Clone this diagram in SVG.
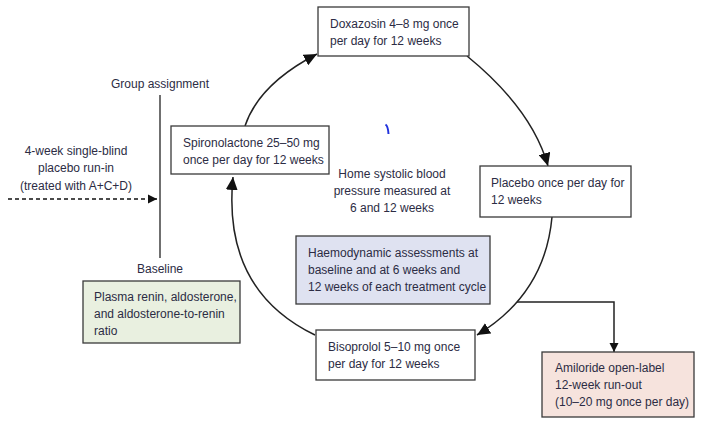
<svg xmlns="http://www.w3.org/2000/svg" width="701" height="425" viewBox="0 0 701 425">
<style>
text{font-family:"Liberation Sans",Arial,sans-serif;font-size:12px;fill:#2c2c44}
.c{text-anchor:middle}
.box{stroke:#3a3a3a;stroke-width:1.3;fill:#fff}
.arc{fill:none;stroke:#222;stroke-width:1.5}
</style>
<defs>
<marker id="ah" markerUnits="userSpaceOnUse" markerWidth="14" markerHeight="12" refX="13" refY="6" orient="auto">
<path d="M0,0 L13,6 L0,12 z" fill="#111"/>
</marker>
<marker id="as" markerUnits="userSpaceOnUse" markerWidth="10" markerHeight="10" refX="9" refY="5" orient="auto">
<path d="M0,0.5 L9,5 L0,9.5 z" fill="#111"/>
</marker>
</defs>
<rect width="701" height="425" fill="#fff"/>

<g id="connectors">
<path class="arc" d="M245,126 Q259,84 317,54" marker-end="url(#ah)"/>
<path class="arc" d="M467,56 Q532,109 548,166" marker-end="url(#ah)"/>
<path class="arc" d="M552,217 Q545,294 477,335" marker-end="url(#ah)"/>
<path class="arc" d="M315,335 Q222,290 233,177" marker-end="url(#ah)"/>
<path class="arc" d="M517,302 H614 V352" marker-end="url(#as)"/>
<path fill="none" stroke="#111" stroke-width="1.3" stroke-dasharray="4,3" d="M8,199 H157" marker-end="url(#as)"/>
<line x1="160" y1="95" x2="160" y2="258" stroke="#222" stroke-width="1.3"/>
</g>

<g id="group-assignment"><text class="c" x="160" y="88">Group assignment</text></g>
<g id="run-in">
<text class="c" x="76" y="155">4-week single-blind</text>
<text class="c" x="76" y="172">placebo run-in</text>
<text class="c" x="76" y="190">(treated with A+C+D)</text>
</g>
<g id="baseline-label"><text class="c" x="160" y="273">Baseline</text></g>

<g id="doxazosin">
<rect class="box" x="318" y="7" width="151" height="49"/>
<text x="330" y="28">Doxazosin 4–8 mg once</text>
<text x="330" y="45">per day for 12 weeks</text>
</g>
<g id="spironolactone">
<rect class="box" x="171" y="126" width="158" height="48"/>
<text x="183" y="147">Spironolactone 25–50 mg</text>
<text x="183" y="164">once per day for 12 weeks</text>
</g>
<g id="placebo">
<rect class="box" x="480" y="166" width="151" height="51"/>
<text x="491" y="187">Placebo once per day for</text>
<text x="491" y="204">12 weeks</text>
</g>
<g id="bisoprolol">
<rect class="box" x="316" y="330" width="159" height="50"/>
<text x="328" y="351">Bisoprolol 5–10 mg once</text>
<text x="328" y="368">per day for 12 weeks</text>
</g>
<g id="home-bp">
<text class="c" x="392" y="178">Home systolic blood</text>
<text class="c" x="392" y="195">pressure measured at</text>
<text class="c" x="392" y="212">6 and 12 weeks</text>
</g>
<g id="haemodynamic">
<rect class="box" x="296" y="236" width="194" height="68" style="fill:#dfe2f1"/>
<text x="308" y="257">Haemodynamic assessments at</text>
<text x="308" y="274">baseline and at 6 weeks and</text>
<text x="308" y="291">12 weeks of each treatment cycle</text>
</g>
<g id="plasma">
<rect class="box" x="83" y="281" width="157" height="62" style="fill:#e9f0e0"/>
<text x="94" y="301">Plasma renin, aldosterone,</text>
<text x="94" y="318">and aldosterone-to-renin</text>
<text x="94" y="335">ratio</text>
</g>
<g id="amiloride">
<rect class="box" x="542" y="352" width="152" height="65" style="fill:#f6e3dd"/>
<text x="555" y="372">Amiloride open-label</text>
<text x="555" y="389">12-week run-out</text>
<text x="555" y="406">(10–20 mg once per day)</text>
</g>
<path d="M385.5,124.5 Q388,126 388.5,134" fill="none" stroke="#2233dd" stroke-width="2"/>
</svg>
